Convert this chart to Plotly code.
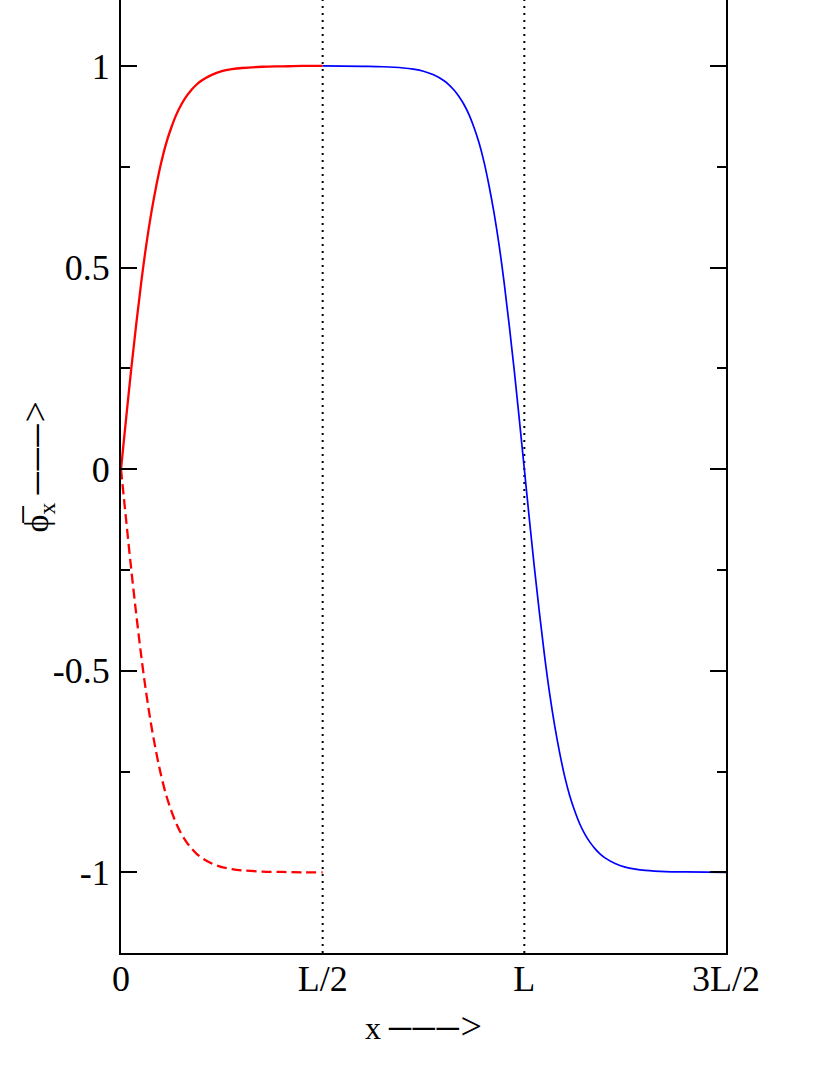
import plotly.graph_objects as go

# red branch, 0 .. L/2 (L = 1)
red_x = [0, 0.0125, 0.025, 0.0375, 0.05, 0.0625, 0.075, 0.0875, 0.1, 0.1125, 0.125, 0.1375,
         0.15, 0.1625, 0.175, 0.1875, 0.2, 0.225, 0.25, 0.275, 0.3, 0.35, 0.4, 0.45, 0.5]
red_up = [0, 0.124, 0.245, 0.357, 0.462, 0.555, 0.635, 0.703, 0.762, 0.81, 0.848, 0.88,
          0.905, 0.925, 0.941, 0.954, 0.964, 0.978, 0.987, 0.992, 0.995, 0.998, 0.999, 1.0, 1.0]
red_down = [-v for v in red_up]

# blue branch, L/2 .. 3L/2
blue_x = [0.5, 0.6, 0.65, 0.7, 0.725, 0.75, 0.775, 0.8, 0.8125, 0.825, 0.8375, 0.85, 0.8625,
          0.875, 0.8875, 0.9, 0.9125, 0.925, 0.9375, 0.95, 0.9625, 0.975, 0.9875, 1.0,
          1.0125, 1.025, 1.0375, 1.05, 1.0625, 1.075, 1.0875, 1.1, 1.1125, 1.125, 1.1375,
          1.15, 1.1625, 1.175, 1.1875, 1.2, 1.225, 1.25, 1.275, 1.3, 1.35, 1.4, 1.5]
blue_y = [1.0, 0.999, 0.998, 0.995, 0.992, 0.987, 0.978, 0.964, 0.954, 0.941, 0.925, 0.905,
          0.88, 0.848, 0.81, 0.762, 0.703, 0.635, 0.555, 0.462, 0.357, 0.245, 0.124, 0.0,
          -0.124, -0.245, -0.357, -0.462, -0.555, -0.635, -0.703, -0.762, -0.81, -0.848,
          -0.88, -0.905, -0.925, -0.941, -0.954, -0.964, -0.978, -0.987, -0.992, -0.995,
          -0.998, -0.999, -1.0]

x_ticks = [0, 0.5, 1.0, 1.5]
x_labels = ['0', 'L/2', 'L', '3L/2']
y_ticks = [-1, -0.5, 0, 0.5, 1]
y_labels = ['-1', '-0.5', '0', '0.5', '1']
y_minor = [-0.75, -0.25, 0.25, 0.75]
marks = [0.5, 1.0]

FONT = "Liberation Serif, Times New Roman, serif"
DASH = "<span style='font-size:44px'>–</span><span style='font-size:22px'>\u200a</span>"
ARROW = DASH * 3 + "<span style='font-size:38px'>></span>"

fig = go.Figure()
for m in marks:
    fig.add_trace(go.Scatter(x=[m, m], y=[-1.2, 1.2], mode='lines', showlegend=False,
                             line=dict(color='black', width=2, dash='2px,5px')))
fig.add_trace(go.Scatter(x=red_x, y=red_up, mode='lines', showlegend=False,
                         line=dict(color='#ff0000', width=2.3, shape='spline')))
fig.add_trace(go.Scatter(x=red_x, y=red_down, mode='lines', showlegend=False,
                         line=dict(color='#ff0000', width=2.3, shape='spline', dash='10px,5px')))
fig.add_trace(go.Scatter(x=blue_x, y=blue_y, mode='lines', showlegend=False,
                         line=dict(color='#0000ff', width=1.7, shape='spline')))

fig.update_layout(
    width=830, height=1075,
    margin=dict(l=121, r=104, t=0, b=122),
    plot_bgcolor='white', paper_bgcolor='white',
    font=dict(family=FONT, size=36, color='black'),
    xaxis=dict(range=[0, 1.5], tickvals=x_ticks, ticktext=x_labels, ticks='',
               showline=True, linecolor='black', linewidth=2, showgrid=False,
               zeroline=False, ticklabelstandoff=-7),
    yaxis=dict(range=[-1.2, 1.1636], tickvals=y_ticks, ticktext=y_labels,
               ticks='inside', ticklen=16, tickwidth=1.5, tickcolor='black',
               minor=dict(ticks='inside', ticklen=9, tickwidth=1.5, tickcolor='black',
                          tickvals=y_minor),
               showline=True, mirror='ticks', linecolor='black', linewidth=2,
               showgrid=False, zeroline=False, ticklabelstandoff=2),
    annotations=[
        dict(text='x ' + ARROW, xref='paper', yref='paper', x=0.5, y=-0.075,
             showarrow=False, font=dict(size=32), xanchor='center', yanchor='middle'),
        dict(text='ϕ̅<sub>x</sub> ' + ARROW, xref='paper', yref='paper', x=-0.143, y=0.51,
             textangle=-90, showarrow=False, font=dict(size=34),
             xanchor='center', yanchor='middle'),
    ],
)

fig.write_html("out.html", config={'displayModeBar': False},
               post_script="document.body.style.margin='0';")
